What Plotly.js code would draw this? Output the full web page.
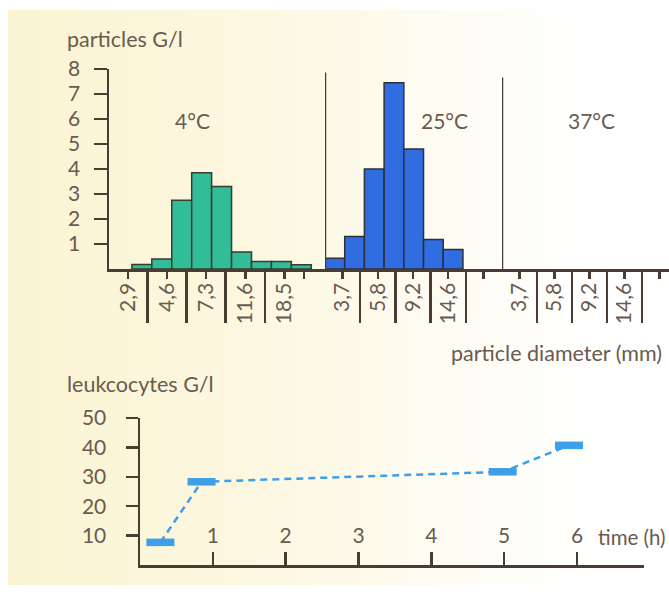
<!DOCTYPE html>
<html>
<head>
<meta charset="utf-8">
<script src="https://cdn.plot.ly/plotly-3.0.1.min.js"></script>
<style>
  html, body { margin: 0; padding: 0; width: 669px; height: 595px; background: #ffffff; overflow: hidden; }
  #bg { position: absolute; left: 8px; top: 10px; right: 0; bottom: 10px;
        background: linear-gradient(to right, #fbf4d3 0%, #fcf7df 35%, #fefcf2 65%, #ffffff 90%); }
  #chart { position: absolute; left: 0; top: 0; width: 669px; height: 595px; }
</style>
</head>
<body>
<div id="bg"></div>
<div id="chart"></div>
<script>
// ---------- data ----------
const panelTitles = ['4°C', '25°C', '37°C'];
const coldLabels = ['2,9', '4,6', '7,3', '11,6', '18,5'];
const warmLabels = ['3,7', '5,8', '9,2', '14,6'];
const particles4 = [0.18, 0.4, 2.75, 3.85, 3.3, 0.68, 0.3, 0.3, 0.17];
const particles25 = [0.43, 1.3, 4.0, 7.45, 4.8, 1.18, 0.78];
const particles37 = [];
const particleTicks = [1, 2, 3, 4, 5, 6, 7, 8];

const timeH = [0.28, 0.845, 4.98, 5.89];
const leukocytes = [7.7, 28.3, 31.7, 40.7];
const timeTicks = [1, 2, 3, 4, 5, 6];
const leukTicks = [10, 20, 30, 40, 50];

// ---------- styles ----------
const TXT = '#6a5a50';
const LINE = '#4a3b33';
const FONT = 'Lato, "Open Sans", sans-serif';
const W = 669, H = 595;
const fx = px => px / W;
const fy = py => 1 - py / H;

// bin geometry (axis units)
const bin4 = { start: 0.2, w: 1.02 };
const bin25 = { start: -1.0, w: 1.12 };

const traces = [
  {
    type: 'bar', xaxis: 'x', yaxis: 'y',
    x: particles4.map((_, i) => bin4.start + i * bin4.w),
    y: particles4, width: bin4.w, offset: 0,
    marker: { color: '#30bd97', line: { color: '#3b3a30', width: 1.5 } },
    hoverinfo: 'y'
  },
  {
    type: 'bar', xaxis: 'x2', yaxis: 'y',
    x: particles25.map((_, i) => bin25.start + i * bin25.w),
    y: particles25, width: bin25.w, offset: 0,
    marker: { color: '#2f6de0', line: { color: '#2e2f3a', width: 1.5 } },
    hoverinfo: 'y'
  },
  {
    type: 'bar', xaxis: 'x3', yaxis: 'y',
    x: particles37.map((_, i) => i), y: particles37,
    marker: { color: '#2f6de0' }
  },
  {
    type: 'scatter', mode: 'lines+markers', xaxis: 'x4', yaxis: 'y4',
    x: timeH, y: leukocytes,
    line: { color: '#3d9fe8', width: 2.5, dash: '7px,5px' },
    marker: { symbol: 'line-ew', size: 20, color: '#3d9fe8', line: { color: '#3d9fe8', width: 7.5 } }
  },
  { // carrier for the time-axis labels drawn above the axis line
    type: 'scatter', mode: 'none', xaxis: 'x5', yaxis: 'y4',
    x: timeTicks, y: timeTicks.map(() => null), hoverinfo: 'skip'
  }
];

const tickFont = { family: FONT, size: 21, color: TXT };

// labelled short ticks every 2 steps, long separator ticks in between, one trailing short tick
function tickSet(labels, trailing) {
  const vals = labels.map((_, i) => 2 * i).concat([trailing]);
  return { vals, text: labels.concat(['']) };
}
function longTicks(labels) {
  return labels.slice(0, labels.length - 1).map((_, i) => 2 * i + 1).concat(labels.length === 4 ? [7] : []);
}

const t1 = tickSet(coldLabels, 9);
const t2 = tickSet(warmLabels, 8);

function diamAxis(domain, range, t, minorVals) {
  return {
    domain, range, anchor: 'y',
    showline: true, linecolor: LINE, linewidth: 2.5,
    showgrid: false, zeroline: false,
    tickmode: 'array', tickvals: t.vals, ticktext: t.text,
    ticks: 'outside', ticklen: 7, tickwidth: 2.5, tickcolor: LINE,
    tickangle: -90, tickfont: tickFont, ticklabelstandoff: -4,
    minor: { tickmode: 'array', tickvals: minorVals, ticks: 'outside', ticklen: 51, tickwidth: 2.5, tickcolor: LINE, showgrid: false },
    fixedrange: true
  };
}

const timeRange = [0, 6.92];

const layout = {
  width: W, height: H,
  margin: { l: 0, r: 0, t: 0, b: 0, pad: 0 },
  paper_bgcolor: 'rgba(0,0,0,0)', plot_bgcolor: 'rgba(0,0,0,0)',
  showlegend: false, bargap: 0,
  font: { family: FONT, color: TXT, size: 20 },
  xaxis: diamAxis([fx(109), fx(325)], [-0.97, 10.08], t1, longTicks(coldLabels)),
  xaxis2: diamAxis([fx(325), fx(502)], [-1, 9.06], t2, longTicks(warmLabels)),
  xaxis3: diamAxis([fx(502), 1], [-1, 8.54], t2, longTicks(warmLabels)),
  yaxis: {
    domain: [fy(269), fy(69)], range: [0, 8], anchor: 'x',
    showline: true, linecolor: LINE, linewidth: 2.5,
    showgrid: false, zeroline: false,
    tickmode: 'array', tickvals: particleTicks,
    ticks: 'outside', ticklen: 13, tickwidth: 2.5, tickcolor: LINE,
    tickfont: tickFont, ticklabelstandoff: 9, fixedrange: true
  },
  xaxis4: {
    domain: [fx(140), fx(644)], range: timeRange, anchor: 'y4',
    showline: true, linecolor: LINE, linewidth: 2.5,
    showgrid: false, zeroline: false,
    tickmode: 'array', tickvals: timeTicks, showticklabels: false,
    ticks: 'inside', ticklen: 13, tickwidth: 2.5, tickcolor: LINE,
    fixedrange: true
  },
  xaxis5: {
    overlaying: 'x4', matches: 'x4', range: timeRange, anchor: 'free', position: fy(550), side: 'top',
    showline: false, showgrid: false, zeroline: false, ticks: '',
    tickmode: 'array', tickvals: timeTicks, tickfont: tickFont, ticklabelstandoff: 3,
    fixedrange: true
  },
  yaxis4: {
    domain: [fy(565), fy(418)], range: [0, 50], anchor: 'x4',
    showline: true, linecolor: LINE, linewidth: 2.5,
    showgrid: false, zeroline: false,
    tickmode: 'array', tickvals: leukTicks,
    ticks: 'outside', ticklen: 12, tickwidth: 2.5, tickcolor: LINE,
    tickfont: tickFont, ticklabelstandoff: 15, fixedrange: true
  },
  shapes: [
    { type: 'line', xref: 'x2', yref: 'y', x0: -1, x1: -1, y0: -2.05, y1: 7.86, line: { color: LINE, width: 2.5 } },
    { type: 'line', xref: 'x3', yref: 'y', x0: -1, x1: -1, y0: -2.05, y1: 7.66, line: { color: LINE, width: 2.5 } }
  ],
  annotations: [
    { text: 'particles G/l', xref: 'paper', yref: 'paper', x: fx(65), y: fy(39), xanchor: 'left', yanchor: 'middle', showarrow: false, font: { size: 21.5, color: TXT } },
    { text: panelTitles[0], xref: 'x', yref: 'y', x: 3.3, y: 5.95, showarrow: false, font: { size: 21, color: TXT } },
    { text: panelTitles[1], xref: 'x2', yref: 'y', x: 5.82, y: 5.95, showarrow: false, font: { size: 21, color: TXT } },
    { text: panelTitles[2], xref: 'x3', yref: 'y', x: 4.14, y: 5.95, showarrow: false, font: { size: 21, color: TXT } },
    { text: 'particle diameter (mm)', xref: 'paper', yref: 'paper', x: fx(664), y: fy(353), xanchor: 'right', yanchor: 'middle', showarrow: false, font: { size: 21.5, color: TXT } },
    { text: 'leukcocytes G/l', xref: 'paper', yref: 'paper', x: fx(65), y: fy(384), xanchor: 'left', yanchor: 'middle', showarrow: false, font: { size: 21.5, color: TXT } },
    { text: 'time (h)', xref: 'paper', yref: 'paper', x: fx(668), y: fy(537), xanchor: 'right', yanchor: 'middle', showarrow: false, font: { size: 20.5, color: TXT } }
  ]
};

Plotly.newPlot('chart', traces, layout, { staticPlot: true, displayModeBar: false });
</script>
</body>
</html>
